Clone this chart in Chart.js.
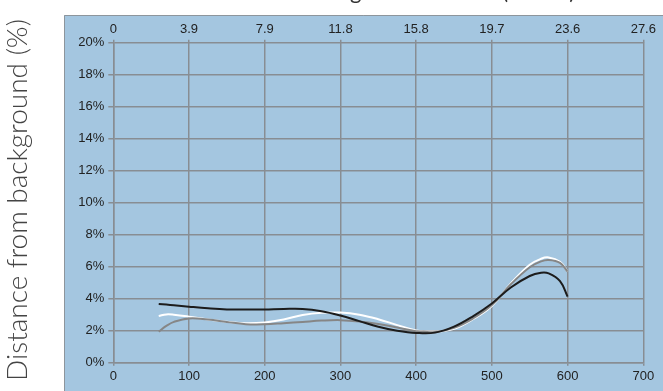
<!DOCTYPE html>
<html>
<head>
<meta charset="utf-8">
<script src="https://cdn.jsdelivr.net/npm/chart.js@4"></script>
<style>
  html, body { margin: 0; padding: 0; background: #fff; }
  #wrap { width: 663px; height: 391px; }
</style>
</head>
<body>
<div id="wrap"><canvas id="chart" width="663" height="391"></canvas></div>
<script>
// =================== DATA ===================
const positions = [60, 70, 80, 100, 125, 150, 175, 200, 225, 250, 275, 300, 325, 350, 375, 400, 425, 450, 475, 500, 525, 550, 565, 575, 590, 600];
const blackSeries = [3.67, 3.63, 3.59, 3.5, 3.4, 3.33, 3.32, 3.33, 3.36, 3.36, 3.22, 2.95, 2.6, 2.25, 2.0, 1.86, 1.88, 2.25, 2.9, 3.7, 4.7, 5.42, 5.62, 5.58, 5.1, 4.13];
const whiteSeries = [2.92, 3.02, 3.0, 2.88, 2.7, 2.56, 2.47, 2.52, 2.7, 2.98, 3.12, 3.13, 3.0, 2.72, 2.35, 2.02, 1.95, 2.12, 2.72, 3.55, 4.95, 6.12, 6.5, 6.58, 6.3, 5.69];
const graySeries  = [1.94, 2.3, 2.55, 2.77, 2.7, 2.55, 2.41, 2.4, 2.47, 2.55, 2.63, 2.66, 2.58, 2.42, 2.2, 1.97, 1.92, 2.18, 2.76, 3.6, 4.9, 5.97, 6.33, 6.42, 6.24, 5.69];
const topTickLabels = ["0", "3.9", "7.9", "11.8", "15.8", "19.7", "23.6", "27.6"];
const yTitle = "Distance from background (%)";
const topTitle = "Height above floor (inches)";

const pts = arr => arr.map((v, i) => ({ x: positions[i], y: v }));
const GRID = "#888d93";
const TICKFONT = { family: "'Liberation Sans', Arial, sans-serif", size: 13 };

// panel + titles drawn behind the chart
const panel = {
  id: "panel",
  beforeDraw(c) {
    const ctx = c.ctx;
    ctx.save();
    ctx.fillStyle = "#a4c6e0";
    ctx.fillRect(64, 15, 663 - 64, 391 - 15);
    ctx.strokeStyle = "#8d959c";
    ctx.lineWidth = 1;
    ctx.beginPath();
    ctx.moveTo(64.5, 391); ctx.lineTo(64.5, 15.5); ctx.lineTo(663, 15.5);
    ctx.stroke();

    ctx.fillStyle = "#444";
    ctx.font = "300 28px Lato, 'Open Sans', sans-serif";
    ctx.textAlign = "center";
    ctx.textBaseline = "alphabetic";
    ctx.translate(27, 200);
    ctx.rotate(-Math.PI / 2);
    ctx.fillText(yTitle, 0, 0);
    ctx.restore();

    ctx.save();
    ctx.fillStyle = "#333";
    ctx.font = "22px Lato, sans-serif";
    ctx.textAlign = "right";
    ctx.textBaseline = "alphabetic";
    ctx.fillText(topTitle, 575, -1.5);
    ctx.restore();
  }
};

new Chart(document.getElementById("chart"), {
  type: "line",
  data: {
    datasets: [
      { data: pts(blackSeries), borderColor: "#1c1c1c", order: 0 },
      { data: pts(graySeries), borderColor: "#868686", order: 1 },
      { data: pts(whiteSeries), borderColor: "#ffffff", order: 2 }
    ]
  },
  options: {
    responsive: false,
    animation: false,
    layout: { padding: 0 },
    elements: {
      point: { radius: 0 },
      line: { borderWidth: 2, tension: 0.4 }
    },
    plugins: { legend: { display: false }, tooltip: { enabled: false } },
    scales: {
      x: {
        type: "linear", position: "bottom", min: 0, max: 700,
        ticks: { stepSize: 100, color: "#222", font: TICKFONT, padding: 3, maxRotation: 0 },
        grid: { color: GRID, lineWidth: 1.5, tickLength: 3 },
        border: { color: GRID, width: 1.5 },
        afterFit(s) { s.height = 28.3; }
      },
      x2: {
        type: "linear", position: "top", min: 0, max: 700,
        ticks: {
          stepSize: 100, color: "#222", font: TICKFONT, padding: 2, maxRotation: 0,
          callback: (v) => topTickLabels[Math.round(v / 100)]
        },
        grid: { drawOnChartArea: false, color: GRID, lineWidth: 1.5, tickLength: 3 },
        border: { display: false },
        afterFit(s) { s.height = 42.7; }
      },
      y: {
        min: 0, max: 20,
        ticks: { stepSize: 2, color: "#222", font: TICKFONT, padding: 4, callback: v => v + "%" },
        grid: { color: GRID, lineWidth: 1.5, tickLength: 5 },
        border: { color: GRID, width: 1.5 },
        afterFit(s) { s.width = 113.3; }
      },
      yr: {
        position: "right", min: 0, max: 20, display: true,
        ticks: { display: false },
        grid: { display: false },
        border: { display: false },
        afterFit(s) { s.width = 19.7; }
      }
    }
  },
  plugins: [panel]
});
</script>
</body>
</html>
